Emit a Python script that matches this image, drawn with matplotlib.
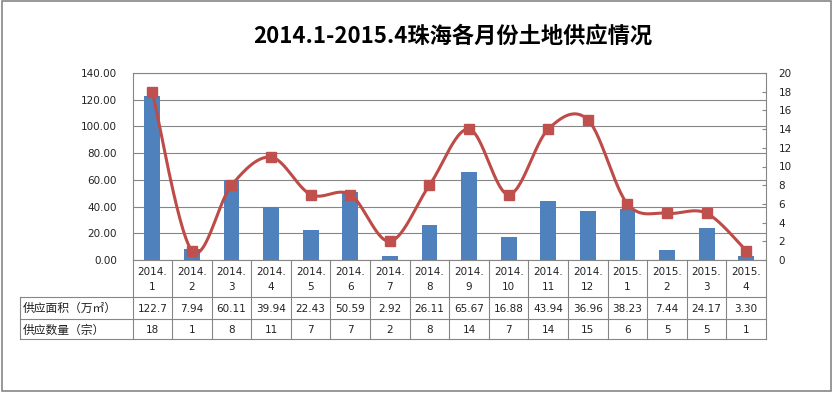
import matplotlib
matplotlib.use("Agg")
import matplotlib.pyplot as plt
import numpy as np
from matplotlib.lines import Line2D
from matplotlib.patches import Rectangle
from matplotlib.transforms import blended_transform_factory

title = "2014.1-2015.4珠海各月份土地供应情况"
years = ["2014."] * 12 + ["2015."] * 4
months = ["1", "2", "3", "4", "5", "6", "7", "8", "9", "10", "11", "12", "1", "2", "3", "4"]
area_labels = ["122.7", "7.94", "60.11", "39.94", "22.43", "50.59", "2.92", "26.11",
               "65.67", "16.88", "43.94", "36.96", "38.23", "7.44", "24.17", "3.30"]
area = [122.7, 7.94, 60.11, 39.94, 22.43, 50.59, 2.92, 26.11,
        65.67, 16.88, 43.94, 36.96, 38.23, 7.44, 24.17, 3.30]
count = [18, 1, 8, 11, 7, 7, 2, 8, 14, 7, 14, 15, 6, 5, 5, 1]
row_labels = ["供应面积（万㎡）", "供应数量（宗）"]
left_ticks = [0, 20, 40, 60, 80, 100, 120, 140]
right_ticks = [0, 2, 4, 6, 8, 10, 12, 14, 16, 18, 20]

W, H = 832, 393
fig = plt.figure(figsize=(W / 100, H / 100), dpi=100)
fig.patch.set_facecolor("white")

def fx(px):
    return px / W

def fy(px):
    return 1 - px / H

L, R, T, B = 132.5, 766, 73, 260
ax = fig.add_axes([fx(L), fy(B), fx(R) - fx(L), fy(T) - fy(B)])
n = len(area)
x = np.arange(n)
ax.set_xlim(-0.5, n - 0.5)
ax.set_ylim(0, 140)
ax.set_yticks(left_ticks)
ax.set_yticklabels([f"{v:.2f}" for v in left_ticks], fontsize=7.5, color="#222222")
ax.tick_params(axis="y", length=0, pad=11)
ax.set_xticks([])
ax.yaxis.grid(True, color="#868686", linewidth=0.8)
ax.set_axisbelow(True)
for s in ax.spines.values():
    s.set_color("#868686")
    s.set_linewidth(0.8)

ax.bar(x, area, width=0.4, color="#4F81BD", zorder=2)

ax2 = ax.twinx()
ax2.set_ylim(0, 20)
ax2.set_yticks(right_ticks)
ax2.set_yticklabels([str(v) for v in right_ticks], fontsize=7.5, color="#222222")
ax2.tick_params(axis="y", direction="in", length=3, color="#868686", pad=9)
for s in ax2.spines.values():
    s.set_visible(False)

# Excel-style smoothed line (Catmull-Rom Bezier)
ys = np.array(count, dtype=float)
xs = x.astype(float)
px_ = np.concatenate([[xs[0]], xs, [xs[-1]]])
py_ = np.concatenate([[ys[0]], ys, [ys[-1]]])
cx, cy = [], []
t = np.linspace(0, 1, 30)
for i in range(1, len(px_) - 2):
    p0 = np.array([px_[i], py_[i]])
    p3 = np.array([px_[i + 1], py_[i + 1]])
    p1 = p0 + (np.array([px_[i + 1], py_[i + 1]]) - np.array([px_[i - 1], py_[i - 1]])) / 6
    p2 = p3 - (np.array([px_[i + 2], py_[i + 2]]) - np.array([px_[i], py_[i]])) / 6
    seg = ((1 - t) ** 3)[:, None] * p0 + (3 * (1 - t) ** 2 * t)[:, None] * p1 + \
          (3 * (1 - t) * t ** 2)[:, None] * p2 + (t ** 3)[:, None] * p3
    cx.extend(seg[:, 0]); cy.extend(seg[:, 1])
ax2.plot(cx, cy, color="#BE4B48", linewidth=2.2, zorder=3, clip_on=False)
ax2.plot(x, count, linestyle="none", marker="s", markersize=7, color="#C0504D", zorder=4, clip_on=False)

# Title
fig.text(fx(453), fy(36), title, ha="center", va="center", fontsize=16, fontweight="bold",
         family=["Noto Sans CJK SC", "DejaVu Sans"], color="black")

# Data table
trans = blended_transform_factory(ax.transData, fig.transFigure)
gc = "#868686"
for i in range(n + 1):
    fig.add_artist(Line2D([i - 0.5, i - 0.5], [fy(B), fy(339)], transform=trans, color=gc, linewidth=0.8))
fig.add_artist(Line2D([fx(19.5), fx(19.5)], [fy(297), fy(339)], transform=fig.transFigure, color=gc, linewidth=0.8))
for yy in [297, 319, 339]:
    fig.add_artist(Line2D([fx(19.5), fx(R)], [fy(yy), fy(yy)], transform=fig.transFigure, color=gc, linewidth=0.8))

for i in range(n):
    fig.text(i, fy(272), years[i], transform=trans, ha="center", va="center", fontsize=7.5, color="#222222")
    fig.text(i, fy(287), months[i], transform=trans, ha="center", va="center", fontsize=7.5, color="#222222")
    fig.text(i, fy(308.5), area_labels[i], transform=trans, ha="center", va="center", fontsize=7.5, color="#222222")
    fig.text(i, fy(330), str(count[i]), transform=trans, ha="center", va="center", fontsize=7.5, color="#222222")

fig.text(fx(23), fy(308.5), row_labels[0], ha="left", va="center", fontsize=8.5,
         family=["Noto Sans CJK SC", "DejaVu Sans"], color="#222222")
fig.text(fx(23), fy(330), row_labels[1], ha="left", va="center", fontsize=8.5,
         family=["Noto Sans CJK SC", "DejaVu Sans"], color="#222222")

# Outer chart border
fig.add_artist(Rectangle((fx(2), fy(391)), fx(829), fy(1) - fy(391), transform=fig.transFigure,
                         fill=False, edgecolor="#868686", linewidth=1.2))

fig.savefig("out.png", dpi=100)
